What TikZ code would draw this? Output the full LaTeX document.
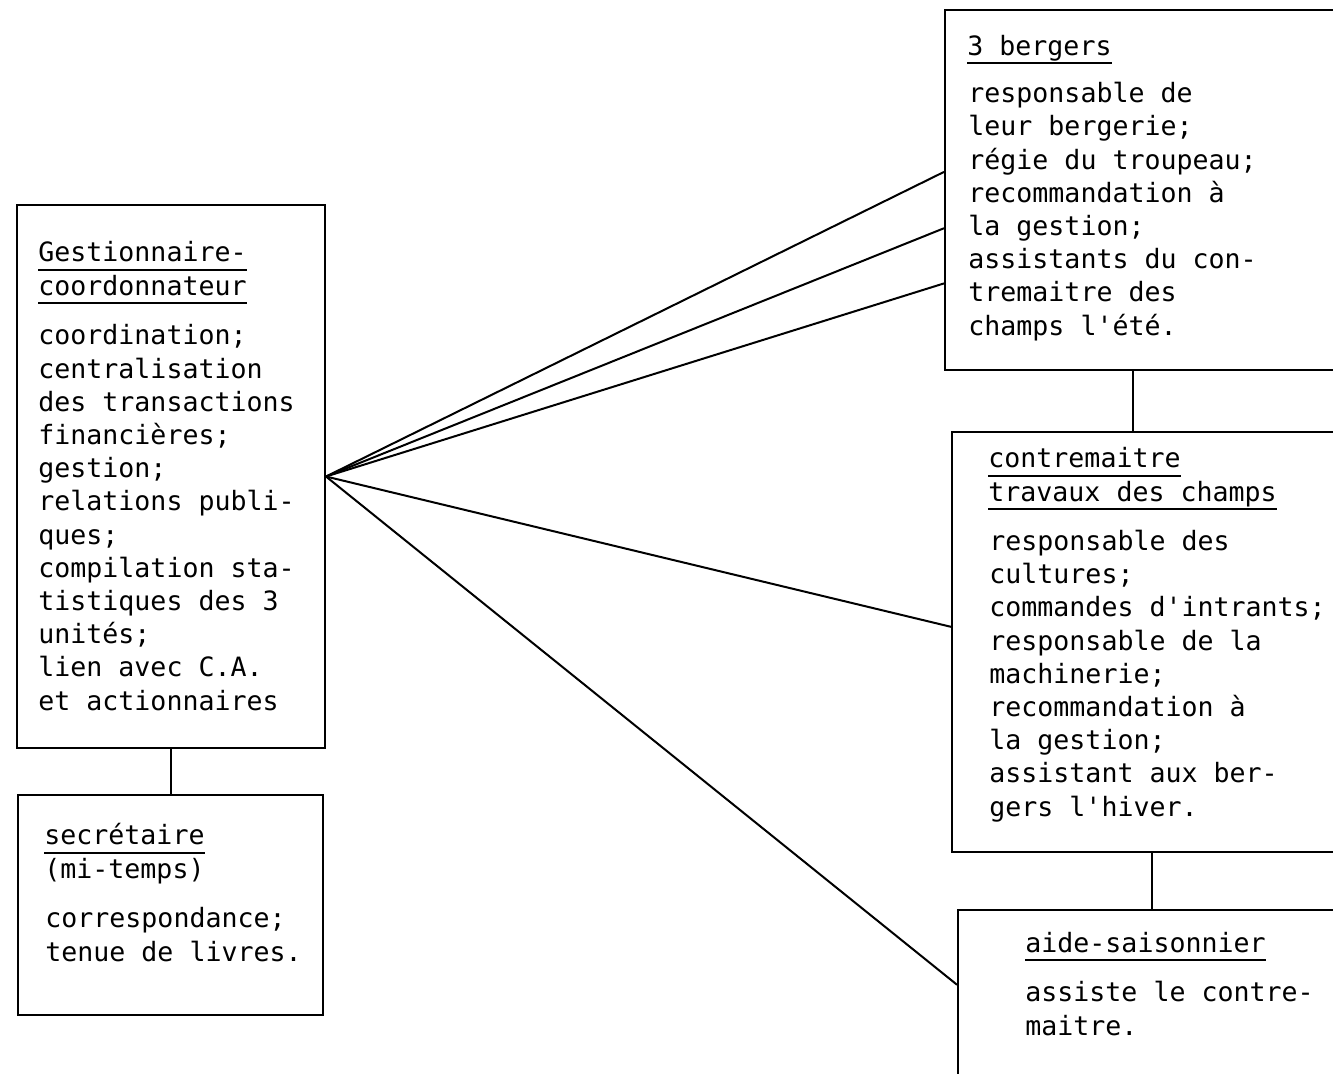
\documentclass[tikz,border=0pt]{standalone}
\usepackage{fontspec}
\setmonofont{DejaVu Sans Mono}
\usetikzlibrary{fit,calc}
\newsavebox\ulbox
\newcommand\myul[1]{\sbox\ulbox{#1}\rlap{\rule[-4.4pt]{\wd\ulbox}{1pt}}\usebox\ulbox}
\begin{document}
\begin{tikzpicture}[x=0.5pt,y=-0.5pt,
  box/.style={draw, line width=1pt, inner sep=0pt},
  txt/.style={anchor=base west, inner sep=0pt, align=left,
    font=\ttfamily\fontsize{13.3pt}{16.6pt}\selectfont},
  link/.style={line width=1pt}]
\useasboundingbox (0,0) rectangle (1333,1073);
\clip (0,0) rectangle (1333,1073);
\fill[white] (0,0) rectangle (1333,1073);

% boxes
\node[box, fit={(17,205) (325,748)}] (gest) {};
\node[box, fit={(18,795) (323,1015)}] (sec) {};
\node[box, fit={(945,10) (1360,370)}] (berg) {};
\node[box, fit={(952,432) (1360,852)}] (cont) {};
\node[box, fit={(958,910) (1360,1095)}] (aide) {};

% texts (anchored at the baseline of their last line)
\node[txt] (gesth) at (38,295) {\myul{Gestionnaire-}\\\myul{coordonnateur}};
\node[txt] (gestb) at (38,710) {coordination;\\centralisation\\des transactions\\financières;\\gestion;\\relations publi-\\ques;\\compilation sta-\\tistiques des 3\\unités;\\lien avec C.A.\\et actionnaires};
\node[txt] (sech) at (44,878) {\myul{secrétaire}\\(mi-temps)};
\node[txt] (secb) at (45,961) {correspondance;\\tenue de livres.};
\node[txt] (bergh) at (967,55) {\myul{3 bergers}};
\node[txt] (bergb) at (968,335) {responsable de\\leur bergerie;\\régie du troupeau;\\recommandation à\\la gestion;\\assistants du con-\\tremaitre des\\champs l'été.};
\node[txt] (conth) at (988,501) {\myul{contremaitre}\\\myul{travaux des champs}};
\node[txt] (contb) at (989,816) {responsable des\\cultures;\\commandes d'intrants;\\responsable de la\\machinerie;\\recommandation à\\la gestion;\\assistant aux ber-\\gers l'hiver.};
\node[txt] (aideh) at (1025,952) {\myul{aide-saisonnier}};
\node[txt] (aideb) at (1025,1035) {assiste le contre-\\maitre.};

% vertical links
\coordinate (c1) at (1133,0);
\coordinate (c2) at (1152,0);
\draw[link] (gest.south) -- (gest.south |- sec.north);
\draw[link] (berg.south -| c1) -- (cont.north -| c1);
\draw[link] (cont.south -| c2) -- (aide.north -| c2);

% fan
\coordinate (fan) at (gest.east);
\draw[link] (fan) -- ($(berg.north west)!0.45!(berg.south west)$);
\draw[link] (fan) -- ($(berg.north west)!0.6056!(berg.south west)$);
\draw[link] (fan) -- ($(berg.north west)!0.758!(berg.south west)$);
\draw[link] (fan) -- ($(cont.north west)!0.464!(cont.south west)$);
\draw[link] (fan) -- ($(aide.north west)!0.405!(aide.south west)$);
\end{tikzpicture}
\end{document}
